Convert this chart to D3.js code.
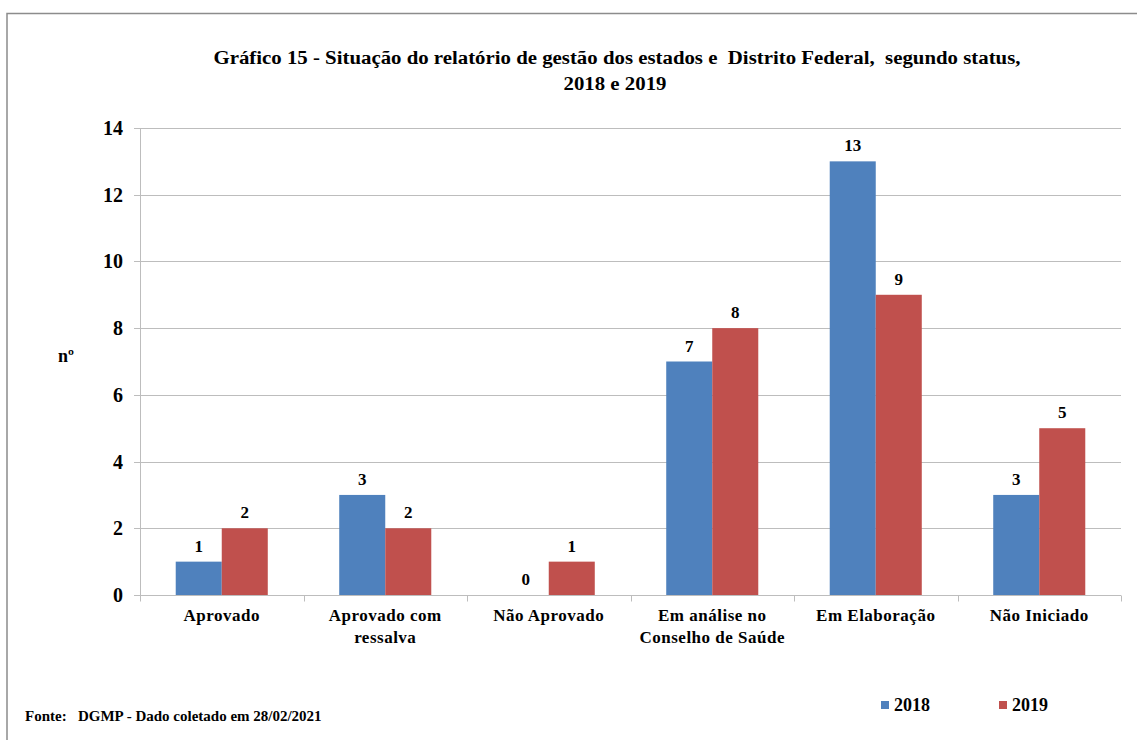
<!DOCTYPE html>
<html>
<head>
<meta charset="utf-8">
<script src="https://cdn.jsdelivr.net/npm/d3@7"></script>
<style>
  body { margin: 0; background: #fff; }
  svg text { font-family: "Liberation Serif", "Times New Roman", serif; font-weight: bold; fill: #000; white-space: pre; }
</style>
</head>
<body>
<svg id="chart" width="1137" height="740"></svg>
<script>
// categories and values
var categories = [["Aprovado"], ["Aprovado com", "ressalva"], ["Não Aprovado"],
                  ["Em análise no", "Conselho de Saúde"], ["Em Elaboração"], ["Não Iniciado"]];
var series = ["2018", "2019"];
var values2018 = [1, 3, 0, 7, 13, 3];
var values2019 = [2, 2, 1, 8, 9, 5];
var yTicks = [0, 2, 4, 6, 8, 10, 12, 14];
var colors = ["#4F81BD", "#C0504D"];

var svg = d3.select("#chart");

var margins = { top: 128, bottom: 145, left: 140, right: 16 };
var width = 1137 - margins.left - margins.right;
var height = 740 - margins.top - margins.bottom;

// outer frame (only top and left visible)
svg.append("path")
    .attr("d", "M7,740 V13.5 H1137")
    .attr("fill", "none")
    .attr("stroke", "#8c8c8c")
    .attr("stroke-width", 1.5);

// title (the original is stretched sideways)
var title = svg.append("text")
    .attr("text-anchor", "middle")
    .style("font-size", "18px");
title.append("tspan").attr("x", 617).attr("y", 64)
    .attr("textLength", 807).attr("lengthAdjust", "spacingAndGlyphs")
    .text("Gráfico 15 - Situação do relatório de gestão dos estados e  Distrito Federal,  segundo status,");
title.append("tspan").attr("x", 615).attr("y", 90)
    .attr("textLength", 103).attr("lengthAdjust", "spacingAndGlyphs")
    .text("2018 e 2019");

var pad = 0.437;
var x = d3.scaleBand()
    .domain(d3.range(categories.length))
    .range([margins.left, margins.left + width])
    .paddingInner(pad)
    .paddingOuter(pad / 2);
var xs = d3.scaleBand().domain(series).range([0, x.bandwidth()]);
var y = d3.scaleLinear().domain([0, 14]).range([margins.top + height, margins.top]);

// gridlines + y ticks
var g = svg.append("g");
g.selectAll("line.grid").data(yTicks).enter().append("line")
    .attr("x1", margins.left - 6).attr("x2", margins.left + width)
    .attr("y1", d => Math.round(y(d)) + 0.5).attr("y2", d => Math.round(y(d)) + 0.5)
    .attr("stroke", "#bdbdbd").attr("stroke-width", 1);

g.selectAll("text.ytick").data(yTicks).enter().append("text")
    .attr("x", 123)
    .attr("y", d => y(d) + 7)
    .attr("text-anchor", "end")
    .style("font-size", "20px")
    .text(d => d);

// y axis line
g.append("line")
    .attr("x1", margins.left + 0.5).attr("x2", margins.left + 0.5)
    .attr("y1", margins.top).attr("y2", margins.top + height)
    .attr("stroke", "#bdbdbd");

// y label
svg.append("text")
    .attr("x", 58).attr("y", 362)
    .style("font-size", "18px")
    .text("nº");

// bars
var data = categories.map((c, i) => ({ i: i, vals: [values2018[i], values2019[i]] }));
var groups = svg.append("g").selectAll("g").data(data).enter().append("g")
    .attr("transform", d => "translate(" + x(d.i) + ",0)");

groups.selectAll("rect").data(d => d.vals.map((v, k) => ({ s: series[k], v: v, k: k })))
    .enter().append("rect")
    .attr("x", d => xs(d.s))
    .attr("width", xs.bandwidth())
    .attr("y", d => y(d.v))
    .attr("height", d => y(0) - y(d.v))
    .attr("fill", d => colors[d.k]);

groups.selectAll("text").data(d => d.vals.map((v, k) => ({ s: series[k], v: v })))
    .enter().append("text")
    .attr("x", d => xs(d.s) + xs.bandwidth() / 2)
    .attr("y", d => y(d.v) - 10)
    .attr("text-anchor", "middle")
    .style("font-size", "17px")
    .text(d => d.v);

// x axis line and ticks at category boundaries
var base = Math.round(y(0)) + 0.5;
svg.append("line")
    .attr("x1", margins.left).attr("x2", margins.left + width)
    .attr("y1", base).attr("y2", base)
    .attr("stroke", "#bdbdbd");
var step = x.step();
svg.selectAll("line.xtick").data(d3.range(categories.length + 1)).enter().append("line")
    .attr("x1", d => Math.round(margins.left + d * step) + 0.5)
    .attr("x2", d => Math.round(margins.left + d * step) + 0.5)
    .attr("y1", base).attr("y2", base + 6)
    .attr("stroke", "#bdbdbd");

// category labels
var cl = svg.append("g").selectAll("text").data(categories).enter().append("text")
    .attr("text-anchor", "middle")
    .style("font-size", "17px")
    .style("letter-spacing", "0.5px");
cl.each(function (lines, i) {
    var t = d3.select(this);
    lines.forEach((ln, j) => {
        t.append("tspan")
            .attr("x", x(i) + x.bandwidth() / 2)
            .attr("y", 621 + j * 22)
            .text(ln);
    });
});

// legend
var legend = svg.append("g").selectAll("g").data(series).enter().append("g")
    .attr("transform", (d, i) => "translate(" + (881 + i * 118) + ",0)");
legend.append("rect").attr("x", 0).attr("y", 701).attr("width", 8).attr("height", 8)
    .attr("fill", (d, i) => colors[i]);
legend.append("text").attr("x", 13).attr("y", 711)
    .style("font-size", "18px")
    .text(d => d);

// source
svg.append("text")
    .attr("x", 25).attr("y", 721)
    .style("font-size", "15px")
    .text("Fonte:   DGMP - Dado coletado em 28/02/2021");
</script>
</body>
</html>
